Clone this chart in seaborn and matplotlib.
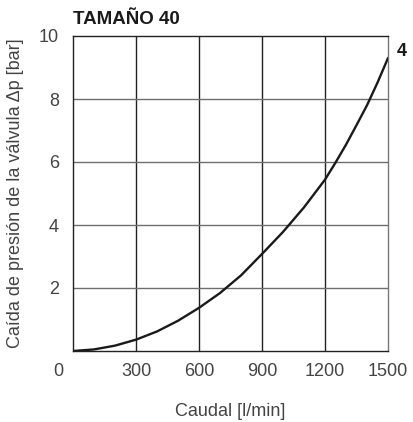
import matplotlib
matplotlib.use("Agg")
import matplotlib.pyplot as plt
import matplotlib.transforms as mtransforms
import seaborn as sns
import pandas as pd

# Pressure drop curve for valve size 40
caudal = [0, 100, 200, 300, 400, 500, 600, 700, 800, 900, 1000, 1100, 1200,
          1250, 1300, 1350, 1400, 1450, 1500]
presion = [0, 0.05, 0.17, 0.36, 0.62, 0.96, 1.37, 1.84, 2.40, 3.08, 3.78, 4.56, 5.44,
           5.98, 6.55, 7.17, 7.80, 8.52, 9.30]
curva = "4"

x_ticks = [0, 300, 600, 900, 1200, 1500]
x_tick_labels = ["0", "300", "600", "900", "1200", "1500"]
y_ticks = [2, 4, 6, 8, 10]
y_tick_labels = ["2", "4", "6", "8", "10"]

titulo = "TAMAÑO 40"
x_label = "Caudal [l/min]"
y_label = "Caída de presión de la válvula Δp [bar]"

sns.set_style("white")
plt.rcParams["font.family"] = ["Liberation Sans", "DejaVu Sans"]

df = pd.DataFrame({"caudal": caudal, "presion": presion})

fig = plt.figure(figsize=(4.14, 4.22), dpi=100)
ax = fig.add_axes([73 / 414, 71 / 422, 315 / 414, 315 / 422])

txt = "#444444"

# grid: dark verticals, lighter horizontals
for xv in x_ticks[1:-1]:
    ax.axvline(xv, color="#222222", lw=1.0, zorder=1)
for yv in y_ticks[:-1]:
    ax.axhline(yv, color="#6e6e6e", lw=1.0, zorder=1)

sns.lineplot(data=df, x="caudal", y="presion", ax=ax, color="#1a1a1a", lw=1.7, zorder=3)

ax.set_xlim(0, 1500)
ax.set_ylim(0, 10)
ax.set_xticks(x_ticks)
ax.set_xticklabels(x_tick_labels)
ax.set_yticks(y_ticks)
ax.set_yticklabels(y_tick_labels)
ax.tick_params(axis="both", length=0, labelsize=13, colors=txt)
ax.tick_params(axis="x", pad=9)
ax.tick_params(axis="y", pad=10)

# the origin label sits left of the corner
zero_lab = ax.get_xticklabels()[0]
zero_lab.set_transform(zero_lab.get_transform() +
                       mtransforms.ScaledTranslation(-15 / 100, 0, fig.dpi_scale_trans))

ax.set_xlabel(x_label, fontsize=13, color=txt, labelpad=16)
ax.set_ylabel(y_label, fontsize=13, color=txt, labelpad=11)

for side in ["left", "bottom", "top"]:
    ax.spines[side].set_color("#222222")
    ax.spines[side].set_linewidth(1.0)
ax.spines["right"].set_color("#777777")
ax.spines["right"].set_linewidth(1.0)

ax.text(0, 1.025, titulo, transform=ax.transAxes, fontsize=13.5,
        fontweight="bold", color="#1a1a1a", ha="left", va="bottom")
ax.annotate(curva, xy=(caudal[-1], presion[-1]), xytext=(6.5, 5),
            textcoords="offset points", fontsize=13, fontweight="bold",
            color="#1a1a1a", ha="left", va="center", annotation_clip=False)

fig.savefig("out.png", dpi=100)
